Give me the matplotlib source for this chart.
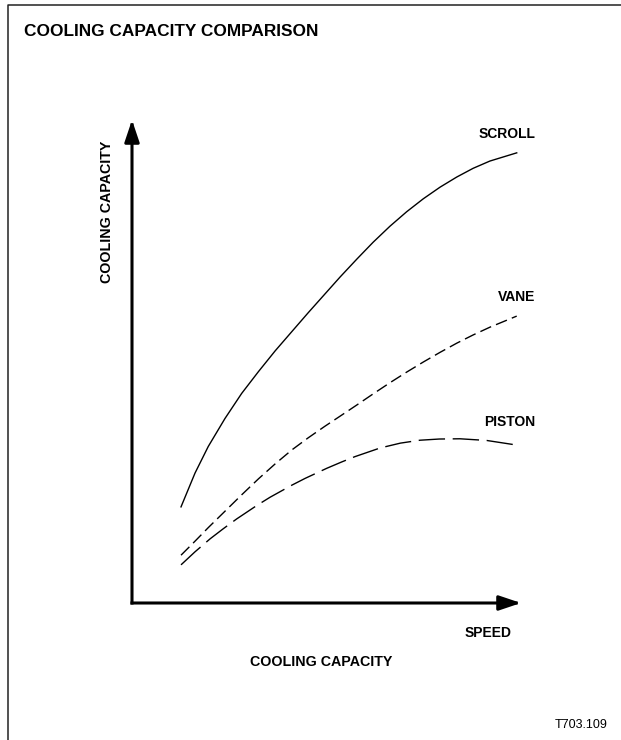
import matplotlib
matplotlib.use("Agg")
import matplotlib.pyplot as plt
from matplotlib.lines import Line2D

plt.rcParams['font.family'] = ['Liberation Sans', 'DejaVu Sans']

# ---- data (arbitrary units, 0..10 on both axes) ----
scroll_x = [1.26, 1.62, 1.96, 2.39, 2.82, 3.25, 3.68, 4.11, 4.53, 4.94, 5.35,
            5.78, 6.20, 6.63, 7.06, 7.49, 7.92, 8.35, 8.77, 9.20, 9.89]
scroll_y = [1.99, 2.69, 3.24, 3.82, 4.34, 4.79, 5.22, 5.62, 6.01, 6.38, 6.75,
            7.12, 7.47, 7.80, 8.10, 8.37, 8.61, 8.82, 9.00, 9.15, 9.32]

vane_x = [1.26, 1.62, 1.96, 2.39, 2.82, 3.25, 3.68, 4.11, 4.53, 4.96, 5.39,
          5.78, 6.20, 6.63, 7.06, 7.49, 7.92, 8.35, 8.77, 9.20, 9.89]
vane_y = [0.99, 1.28, 1.56, 1.90, 2.24, 2.57, 2.88, 3.17, 3.42, 3.66, 3.89,
          4.10, 4.33, 4.56, 4.78, 4.99, 5.19, 5.38, 5.55, 5.71, 5.94]

piston_x = [1.26, 1.62, 2.01, 2.35, 2.69, 3.21, 3.55, 4.11, 4.45, 5.01, 5.39,
            5.73, 6.38, 6.90, 7.40, 7.90, 8.43, 9.12, 9.89]
piston_y = [0.79, 1.06, 1.33, 1.54, 1.74, 2.02, 2.19, 2.44, 2.58, 2.79, 2.92,
            3.03, 3.21, 3.31, 3.37, 3.395, 3.40, 3.365, 3.27]

series_labels = ["SCROLL", "VANE", "PISTON"]
title = "COOLING CAPACITY COMPARISON"
x_label = "COOLING CAPACITY"
y_label = "COOLING CAPACITY"
x_axis_name = "SPEED"
code = "T703.109"

W, H = 621, 740
fig = plt.figure(figsize=(W / 100, H / 100), dpi=100)
fig.patch.set_facecolor("white")

def fx(px):
    return px / W

def fy(py):
    return 1 - py / H

# frame lines (left + top only)
fig.add_artist(Line2D([fx(8), fx(8), 1.0], [0.0, fy(4.5), fy(4.5)],
                      color="#222222", lw=1.1, transform=fig.transFigure))

# data axes
x0, x1, y0, y1 = 132, 521, 603, 120
ax = fig.add_axes([fx(x0), fy(y0), (x1 - x0) / W, (y0 - y1) / H])
ax.set_xlim(0, 10)
ax.set_ylim(0, 10)
ax.axis("off")

ax.plot(scroll_x, scroll_y, color="black", lw=1.0, solid_joinstyle="round")
ax.plot(vane_x, vane_y, color="black", lw=1.0, dashes=(8.5, 3.8))
ax.plot(piston_x, piston_y, color="black", lw=1.0, dashes=(19, 5.5))

arrow_kw = dict(arrowstyle="-|>,head_length=0.95,head_width=0.32",
                lw=2.2, color="black", mutation_scale=14,
                shrinkA=0, shrinkB=0, capstyle="projecting")
ax.annotate("", xy=(0, 1), xytext=(0, 0), xycoords="axes fraction",
            arrowprops=arrow_kw, annotation_clip=False)
ax.annotate("", xy=(1, 0), xytext=(0, 0), xycoords="axes fraction",
            arrowprops=arrow_kw, annotation_clip=False)

bold = dict(fontweight="bold", color="black")

fig.text(fx(24), fy(36), title, fontsize=12.4, ha="left", va="baseline", **bold)

fig.text(fx(535), fy(138), series_labels[0], fontsize=10, ha="right", va="baseline", **bold)
fig.text(fx(535), fy(301), series_labels[1], fontsize=10, ha="right", va="baseline", **bold)
fig.text(fx(535), fy(426), series_labels[2], fontsize=10, ha="right", va="baseline", **bold)

fig.text(fx(512), fy(637), x_axis_name, fontsize=10, ha="right", va="baseline", **bold)
fig.text(fx(250), fy(666), x_label, fontsize=10.3, ha="left", va="baseline", **bold)
fig.text(fx(114), fy(283), y_label, fontsize=10.3, ha="left", va="bottom",
         rotation=90, rotation_mode="anchor", **bold)

fig.text(fx(608), fy(728), code, fontsize=9, ha="right", va="baseline", color="black")

fig.savefig("out.png", dpi=100, facecolor="white")
